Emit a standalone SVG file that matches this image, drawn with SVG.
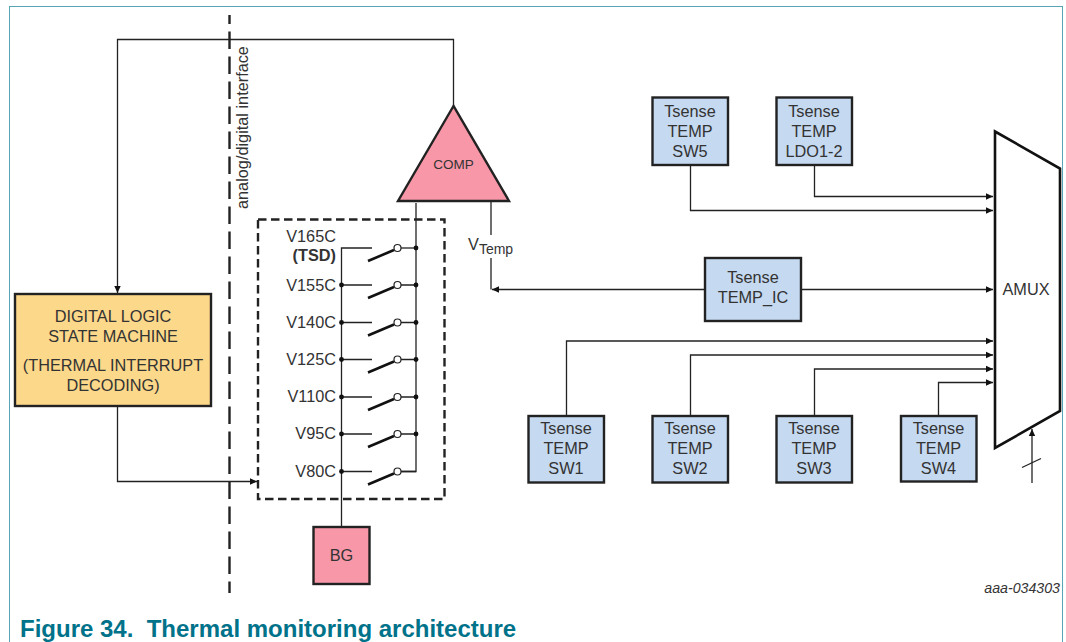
<svg xmlns="http://www.w3.org/2000/svg" width="1066" height="642" viewBox="0 0 1066 642">
<style>
text{font-family:"Liberation Sans",Arial,sans-serif;fill:#333;font-size:16.300px}
.m{text-anchor:middle}.e{text-anchor:end}
.w{fill:none;stroke:#222;stroke-width:1.3}
.box{stroke:#222;stroke-width:2.4}
.blue{fill:#c5d9f0}.pink{fill:#f797a8}.yellow{fill:#fcd88a}
.dash{fill:none;stroke:#222;stroke-width:2.4}
.lever{stroke:#111;stroke-width:2.6;fill:none}
.c{fill:#fff;stroke:#222;stroke-width:1.2}
</style>
<defs>
<marker id="a" markerUnits="userSpaceOnUse" markerWidth="8" markerHeight="8" refX="7" refY="4" orient="auto"><path d="M0 .8L7 4L0 7.2Z" fill="#111"/></marker>
<circle id="dot" r="2.4" fill="#111"/>
</defs>
<rect id="frame" x="9.5" y="6.5" width="1053" height="640" fill="#fff" stroke="#5aa5b5" stroke-width="1"/>
<g id="connectors">
<path class="w" marker-end="url(#a)" d="M453.500 106V39.500H117.500V293"/>
<path class="w" marker-end="url(#a)" d="M117.500 406V481.500H257"/>
<path class="w" d="M416 203V471.500H401M372 248H341.500V527"/>
<path class="w" d="M491 201V235M491 258V289.500"/>
<path class="w" marker-end="url(#a)" d="M705 289.500H492"/>
<path class="w" marker-end="url(#a)" d="M801 289.500H993"/>
<path class="w" marker-end="url(#a)" d="M814.500 165V196.500H993"/>
<path class="w" marker-end="url(#a)" d="M690.500 165V210.500H993"/>
<path class="w" marker-end="url(#a)" d="M566.500 416V341H993"/>
<path class="w" marker-end="url(#a)" d="M690.500 416V355H993"/>
<path class="w" marker-end="url(#a)" d="M814.500 416V369H993"/>
<path class="w" marker-end="url(#a)" d="M938.500 416V382.500H993"/>
<path class="w" marker-end="url(#a)" d="M1032 483V429"/>
<path class="w" d="M1022 467.500L1041 458.500"/>
</g>
<line id="interface-line" class="dash" stroke-dasharray="17.500 7.500" stroke-dashoffset="8.500" x1="229.500" y1="15" x2="229.500" y2="593"/>
<text transform="translate(248 209) rotate(-90)">analog/digital interface</text>
<rect id="switch-box" class="dash" stroke-dasharray="8.500 4.500" x="258" y="219.500" width="186.500" height="279.500"/>
<g id="switches">
<g id="sw-v165c"><path class="w" d="M401 248H416"/><path class="lever" d="M368 261L394 250"/><circle class="c" cx="397.500" cy="248" r="3.500"/><use href="#dot" x="416" y="248"/></g>
<g id="sw-v155c"><path class="w" d="M341.500 285H372M401 285H416"/><path class="lever" d="M368 298L394 287"/><circle class="c" cx="397.500" cy="285" r="3.500"/><use href="#dot" x="341.500" y="285"/><use href="#dot" x="416" y="285"/></g>
<g id="sw-v140c"><path class="w" d="M341.500 322.500H372M401 322.500H416"/><path class="lever" d="M368 335.500L394 324.500"/><circle class="c" cx="397.500" cy="322.500" r="3.500"/><use href="#dot" x="341.500" y="322.500"/><use href="#dot" x="416" y="322.500"/></g>
<g id="sw-v125c"><path class="w" d="M341.500 359.500H372M401 359.500H416"/><path class="lever" d="M368 372.500L394 361.500"/><circle class="c" cx="397.500" cy="359.500" r="3.500"/><use href="#dot" x="341.500" y="359.500"/><use href="#dot" x="416" y="359.500"/></g>
<g id="sw-v110c"><path class="w" d="M341.500 397H372M401 397H416"/><path class="lever" d="M368 410L394 399"/><circle class="c" cx="397.500" cy="397" r="3.500"/><use href="#dot" x="341.500" y="397"/><use href="#dot" x="416" y="397"/></g>
<g id="sw-v95c"><path class="w" d="M341.500 434H372M401 434H416"/><path class="lever" d="M368 447L394 436"/><circle class="c" cx="397.500" cy="434" r="3.500"/><use href="#dot" x="341.500" y="434"/><use href="#dot" x="416" y="434"/></g>
<g id="sw-v80c"><path class="w" d="M341.500 471.500H372M401 471.500H416"/><path class="lever" d="M368 484.500L394 473.500"/><circle class="c" cx="397.500" cy="471.500" r="3.500"/><use href="#dot" x="341.500" y="471.500"/></g>
</g>
<g id="switch-labels">
<text class="e" x="336" y="242">V165C</text>
<text class="e" x="336" y="261" style="font-weight:bold">(TSD)</text>
<text class="e" x="336" y="291">V155C</text>
<text class="e" x="336" y="328">V140C</text>
<text class="e" x="336" y="365">V125C</text>
<text class="e" x="336" y="402">V110C</text>
<text class="e" x="336" y="439">V95C</text>
<text class="e" x="336" y="477">V80C</text>
</g>
<text x="468" y="250">V<tspan dy="4" style="font-size:14px">Temp</tspan></text>
<g id="comp"><path class="box pink" stroke-linejoin="miter" d="M453.500 106L398 201H509Z"/><text class="m" x="453.500" y="169" style="font-size:13.500px">COMP</text></g>
<g id="digital-logic"><rect class="box yellow" x="15" y="294" width="196" height="112"/>
<text class="m" x="113" y="322">DIGITAL LOGIC</text><text class="m" x="113" y="342">STATE MACHINE</text><text class="m" x="113" y="371">(THERMAL INTERRUPT</text><text class="m" x="113" y="391">DECODING)</text></g>
<g id="bg"><rect class="box pink" x="313.500" y="527" width="56" height="57"/><text class="m" x="341.500" y="561">BG</text></g>
<g id="tsense-sw5"><rect class="box blue" x="652.500" y="97.500" width="75.500" height="67.500"/><text class="m" x="690" y="117">Tsense</text><text class="m" x="690" y="137">TEMP</text><text class="m" x="690" y="157">SW5</text></g>
<g id="tsense-ldo"><rect class="box blue" x="776.500" y="97.500" width="75.500" height="67.500"/><text class="m" x="814" y="117">Tsense</text><text class="m" x="814" y="137">TEMP</text><text class="m" x="814" y="157">LDO1-2</text></g>
<g id="tsense-ic"><rect class="box blue" x="705" y="258" width="96" height="63"/><text class="m" x="753" y="283">Tsense</text><text class="m" x="753" y="303">TEMP_IC</text></g>
<g id="tsense-sw1"><rect class="box blue" x="528.500" y="416" width="75.500" height="66.500"/><text class="m" x="566" y="434">Tsense</text><text class="m" x="566" y="454">TEMP</text><text class="m" x="566" y="474">SW1</text></g>
<g id="tsense-sw2"><rect class="box blue" x="652.500" y="416" width="75.500" height="66.500"/><text class="m" x="690" y="434">Tsense</text><text class="m" x="690" y="454">TEMP</text><text class="m" x="690" y="474">SW2</text></g>
<g id="tsense-sw3"><rect class="box blue" x="776.500" y="416" width="75.500" height="66.500"/><text class="m" x="814" y="434">Tsense</text><text class="m" x="814" y="454">TEMP</text><text class="m" x="814" y="474">SW3</text></g>
<g id="tsense-sw4"><rect class="box blue" x="901" y="416" width="75.500" height="65.500"/><text class="m" x="938.500" y="434">Tsense</text><text class="m" x="938.500" y="454">TEMP</text><text class="m" x="938.500" y="474">SW4</text></g>
<g id="amux"><path d="M995 131.500L1060 168.500V411L995 448Z" fill="#fff" stroke="#111" stroke-width="2.600"/><text class="m" x="1026" y="295">AMUX</text></g>
<text class="e" x="1060" y="593" style="font-size:14.200px;font-style:italic">aaa-034303</text>
<text x="20" y="637" style="font-size:24px;font-weight:bold;fill:#00728a">Figure 34.&#160; Thermal monitoring architecture</text>
</svg>
